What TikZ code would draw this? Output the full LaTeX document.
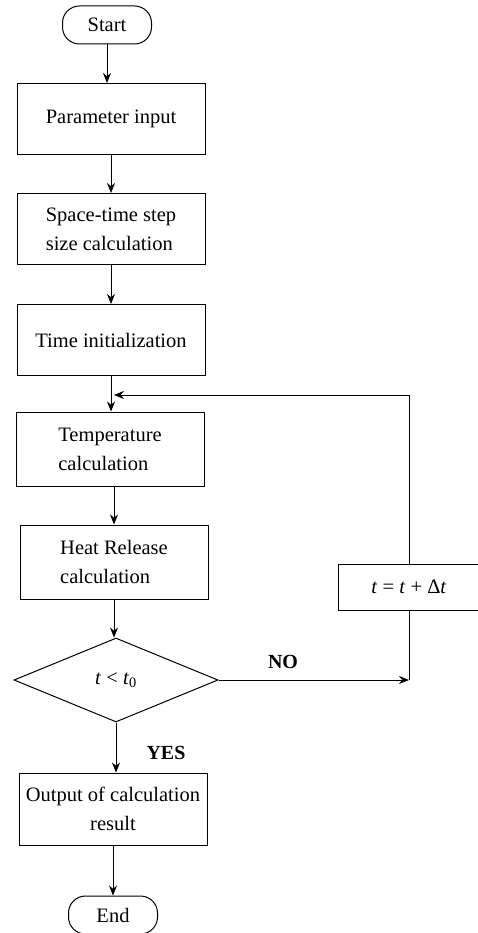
\documentclass[tikz,border=0pt]{standalone}
\usepackage{fontspec}
\setmainfont{Liberation Serif}
\usetikzlibrary{shapes.geometric,arrows.meta}
\begin{document}
\begin{tikzpicture}
      [x=1pt,y=-1pt,line width=1pt,>={Stealth[length=10pt,width=8pt]},
       box/.style={rectangle,draw,minimum width=188pt,minimum height=71pt},
       term/.style={rectangle,draw,rounded corners=17pt,minimum width=89pt,minimum height=38pt},
       tag/.style={font=\fontsize{20}{24}\selectfont\bfseries}]
      \tikzstyle{every node}=[font=\fontsize{20.5}{29}\selectfont]
      \useasboundingbox (0,0) rectangle (477,933);
      \node[term] (start) at (107,25) {Start};
      \node[box] (param) at (111,119) {Parameter input};
      \node[box,align=left] (space) at (111,229) {Space-time step\\size calculation};
      \node[box] (init) at (111,340) {Time initialization};
      \node[box,align=left,minimum height=74pt] (temp) at (110,449) {Temperature\\calculation};
      \node[box,align=left,minimum height=74pt] (heat) at (114,562) {Heat Release\\calculation};
      \node[diamond,draw,aspect=2.4,inner sep=0pt,minimum width=204pt,minimum height=84pt] (check) at (116,680) {\textit{t} < \textit{t}\textsubscript{0}};
      \node[box,align=center,minimum height=72pt] (out) at (113,809) {Output of calculation\\result};
      \node[term] (end) at (113,915) {End};
      \node[rectangle,draw,minimum width=142pt,minimum height=46pt] (inc) at (409,587) {\textit{t} = \textit{t} + Δ\textit{t}};
      \coordinate (back) at (114,395);
      \coordinate (join) at (inc.south |- check.east);
      \draw[->] (start) -- (start |- param.north);
      \draw[->] (param) -- (space);
      \draw[->] (space) -- (init);
      \draw[->] (init) -- (init |- temp.north);
      \draw[->] (temp.south -| heat) -- (heat);
      \draw[->] (heat) -- (heat |- check.north);
      \draw[->] (check) -- (check |- out.north);
      \draw[->] (out) -- (end);
      \draw[->] (inc.north) |- (back);
      \draw (inc.south) -- (join);
      \draw[->] (check.east) -- (join);
      \node[tag] (no) at (283,662) {NO};
      \node[tag] (yes) at (166,753) {YES};
    \end{tikzpicture}
\end{document}
